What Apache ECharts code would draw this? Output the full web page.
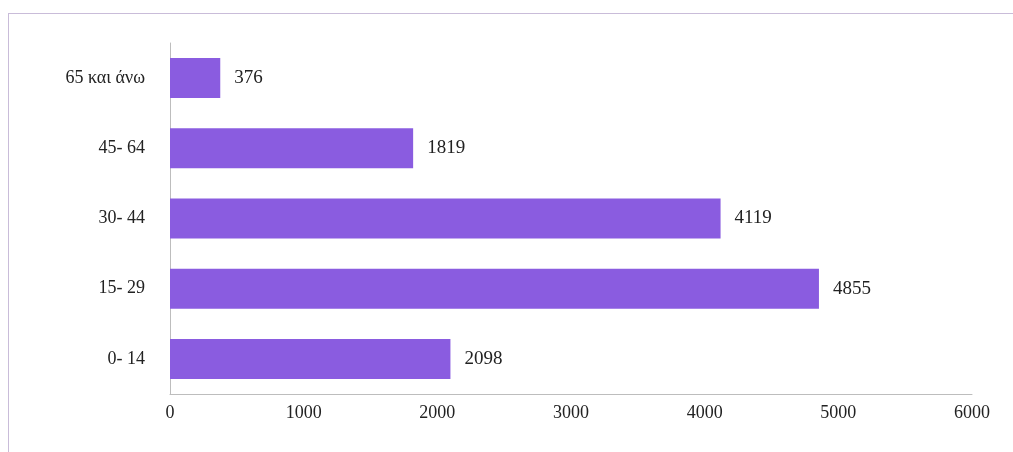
<!DOCTYPE html>
<html>
<head>
<meta charset="utf-8">
<script src="https://cdn.jsdelivr.net/npm/echarts@6/dist/echarts.min.js"></script>
<style>
html,body{margin:0;padding:0;background:#fff;}
#frame{position:absolute;left:8px;top:13px;width:1010px;height:445px;border:1px solid #c9bcd9;box-sizing:border-box;}
#c{position:absolute;left:0;top:0;width:1013px;height:452px;}
</style>
</head>
<body>
<div id="frame"></div>
<div id="c"></div>
<script>
const categories = ['0- 14', '15- 29', '30- 44', '45- 64', '65 και άνω'];
const values = [2098, 4855, 4119, 1819, 376];
const xTicks = [0, 1000, 2000, 3000, 4000, 5000, 6000];

const chart = echarts.init(document.getElementById('c'));
chart.setOption({
  animation: false,
  grid: {left: 170, right: 41, top: 43, bottom: 58},
  xAxis: {
    type: 'value', min: xTicks[0], max: xTicks[xTicks.length - 1], interval: 1000,
    axisLine: {show: true, lineStyle: {color: '#bdbdbd', width: 1}},
    axisTick: {show: false},
    splitLine: {show: false},
    axisLabel: {color: '#222', fontFamily: 'Liberation Serif', fontSize: 18, margin: 10,
      formatter: v => String(v)}
  },
  yAxis: {
    type: 'category', data: categories,
    axisLine: {show: true, lineStyle: {color: '#bdbdbd', width: 1}},
    axisTick: {show: false},
    axisLabel: {color: '#222', fontFamily: 'Liberation Serif', fontSize: 18, margin: 25}
  },
  series: [{
    type: 'bar', data: values, barWidth: 40,
    itemStyle: {color: '#8a5ce0'},
    label: {show: true, position: 'right', distance: 14, color: '#222', fontFamily: 'Liberation Serif', fontSize: 19,
      formatter: p => String(p.value)}
  }]
});
</script>
</body>
</html>
